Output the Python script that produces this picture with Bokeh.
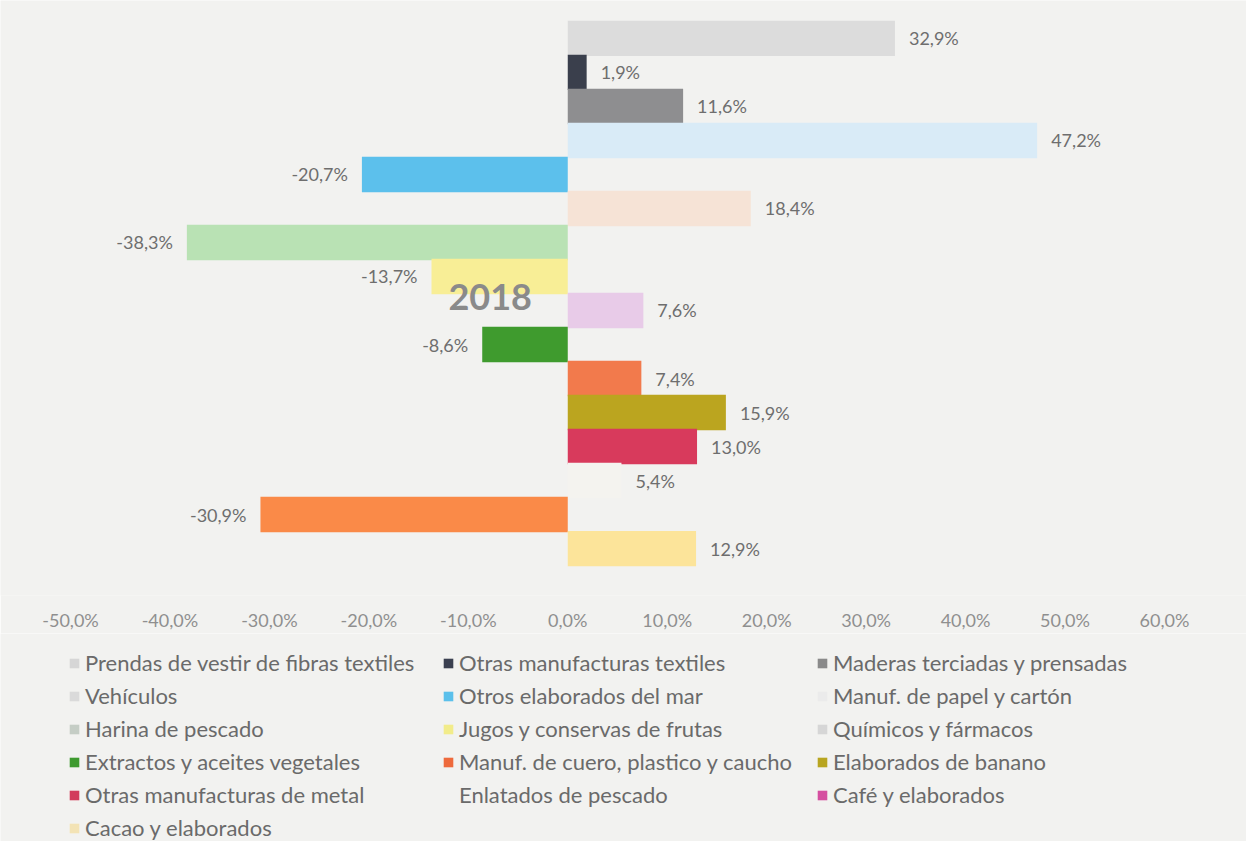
from bokeh.plotting import figure
from bokeh.layouts import column
from bokeh.models import (ColumnDataSource, Range1d, FixedTicker, CustomJSTickFormatter,
                          Legend, LegendItem, Label)
from bokeh.embed import file_html
from bokeh.resources import INLINE
from bokeh.core.properties import value

categories = [
    "Prendas de vestir de fibras textiles", "Otras manufacturas textiles",
    "Maderas terciadas y prensadas", "Vehículos", "Otros elaborados del mar",
    "Manuf. de papel y cartón", "Harina de pescado", "Jugos y conservas de frutas",
    "Químicos y fármacos", "Extractos y aceites vegetales",
    "Manuf. de cuero, plastico y caucho", "Elaborados de banano",
    "Otras manufacturas de metal", "Enlatados de pescado", "Café y elaborados",
    "Cacao y elaborados",
]
values = [32.9, 1.9, 11.6, 47.2, -20.7, 18.4, -38.3, -13.7, 7.6, -8.6, 7.4, 15.9,
          13.0, 5.4, -30.9, 12.9]
bar_colors = ["#dcdcdc", "#3a3f4c", "#8e8e90", "#d9ebf7", "#5cc0ec", "#f6e3d6",
              "#b9e2b4", "#f8ee96", "#e8cbe8", "#3f9b2e", "#f27a4c", "#bba51f",
              "#d83a5c", "#f4f3ef", "#fa8a48", "#fce49a"]
legend_colors = ["#d6d6d6", "#3b4050", "#8a8a8a", "#dadada", "#5bc0eb", "#ebebeb",
                 "#c5cdc5", "#f2ec8a", "#d6d6d6", "#3e9a2f", "#ee6a3c", "#b8a520",
                 "#d23c5c", "#f2f2f0", "#d54fa0", "#f3e3b5"]
x_ticks = [-50, -40, -30, -20, -10, 0, 10, 20, 30, 40, 50, 60]
year_label = "2018"

BG = "#f2f2f0"
positions = list(range(len(categories)))
labels = [f"{v:.1f}".replace(".", ",") + "%" for v in values]

src = ColumnDataSource(dict(y=positions, v=values, color=bar_colors, label=labels))
pos_idx = [i for i, v in enumerate(values) if v >= 0]
neg_idx = [i for i, v in enumerate(values) if v < 0]
pos_src = ColumnDataSource(dict(y=[positions[i] for i in pos_idx],
                                x=[values[i] for i in pos_idx],
                                label=[labels[i] for i in pos_idx]))
neg_src = ColumnDataSource(dict(y=[positions[i] for i in neg_idx],
                                x=[values[i] for i in neg_idx],
                                label=[labels[i] for i in neg_idx]))

p = figure(width=1246, height=633, x_range=Range1d(-57.04, 68.25),
           y_range=Range1d(16.38, -1.115), output_backend="svg",
           toolbar_location=None, y_axis_location=None,
           min_border_left=0, min_border_right=0, min_border_top=0,
           min_border_bottom=0, background_fill_color=BG,
           border_fill_color=BG, outline_line_color=None)

p.hbar(y="y", left=0, right="v", height=1.04, fill_color="color",
       line_color=None, source=src)

common = dict(text_baseline="middle", text_font=value("Lato"),
              text_font_size="18px", text_color="#6e6e6e")
p.text(x="x", y="y", text="label", source=pos_src, x_offset=14,
       text_align="left", **common)
p.text(x="x", y="y", text="label", source=neg_src, x_offset=-14,
       text_align="right", **common)

p.add_layout(Label(x=-7.8, y=7.6, text=year_label, text_align="center",
                   text_baseline="middle", text_font="Lato",
                   text_font_style="bold", text_font_size="36px",
                   text_color="#8a8a8a"))

p.xgrid.grid_line_color = None
p.ygrid.grid_line_color = None
ax = p.xaxis[0]
ax.ticker = FixedTicker(ticks=x_ticks)
ax.formatter = CustomJSTickFormatter(
    code="return tick.toFixed(1).replace('.', ',') + '%';")
ax.axis_line_color = None
ax.major_tick_line_color = None
ax.minor_tick_line_color = None
ax.major_label_text_font = "Lato"
ax.major_label_text_font_size = "18px"
ax.major_label_text_color = "#8f8f8f"
ax.major_label_standoff = 7

# legend figure (its ranges are away from the data, so only the legend shows)
p2 = figure(width=1246, height=208, x_range=Range1d(1000, 1001),
            y_range=Range1d(1000, 1001), output_backend="svg",
            toolbar_location=None, x_axis_location=None, y_axis_location=None,
            min_border_left=0, min_border_right=0, min_border_top=0,
            min_border_bottom=0, background_fill_color=BG,
            border_fill_color=BG, outline_line_color=None)
p2.xgrid.grid_line_color = None
p2.ygrid.grid_line_color = None

leg_src = ColumnDataSource(dict(y=positions, v=values, color=legend_colors))
leg_r = p2.hbar(y="y", left=0, right="v", height=1, fill_color="color",
                line_color=None, source=leg_src)
items = [LegendItem(label=cat, renderers=[leg_r], index=i)
         for i, cat in enumerate(categories)]

legend = Legend(items=items, ncols=3, orientation="horizontal",
                location=(68, 0), glyph_width=12, glyph_height=12,
                label_standoff=5, label_width=351, label_height=24,
                spacing=6, padding=0, margin=0,
                label_text_font="Lato", label_text_font_size="22px",
                label_text_color="#6a6a6a", border_line_color=None,
                background_fill_alpha=0)
p2.add_layout(legend)

layout = column(p, p2, spacing=0)
open("out.html", "w").write(file_html(layout, INLINE))
